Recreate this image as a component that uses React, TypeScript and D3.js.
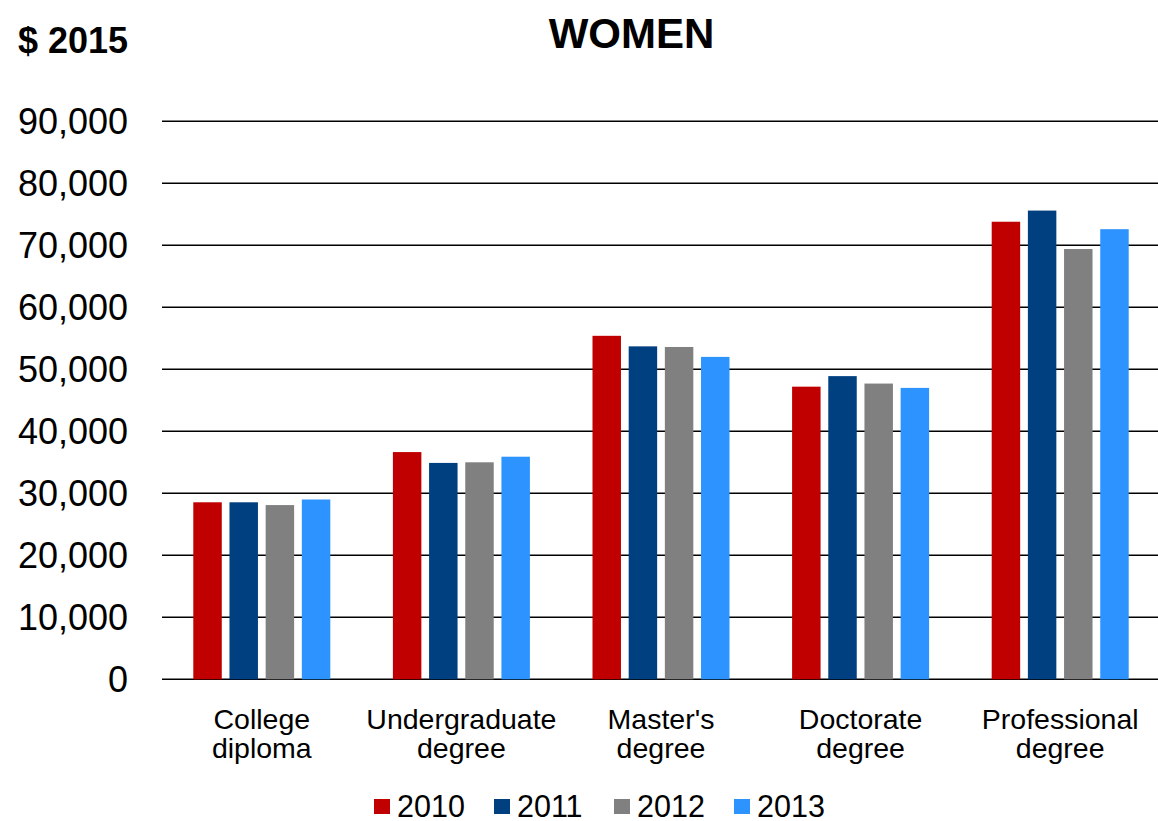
import React from "react";
import * as d3 from "d3";

const categories: string[][] = [
  ["College", "diploma"],
  ["Undergraduate", "degree"],
  ["Master's", "degree"],
  ["Doctorate", "degree"],
  ["Professional", "degree"],
];
const seriesNames = ["2010", "2011", "2012", "2013"];
const seriesColors = ["#C00000", "#003F80", "#808080", "#2D94FF"];
const values2010 = [28550, 36650, 55400, 47200, 73800];
const values2011 = [28550, 34900, 53700, 48900, 75600];
const values2012 = [28100, 35000, 53600, 47700, 69400];
const values2013 = [29000, 35900, 52000, 47000, 72600];
const seriesValues = [values2010, values2011, values2012, values2013];
const yTicks = [0, 10000, 20000, 30000, 40000, 50000, 60000, 70000, 80000, 90000];

const W = 1158;
const H = 821;
const FONT = "'Liberation Sans', Arial, sans-serif";

export default function App() {
  const catKeys = categories.map((c) => c.join(" "));
  const x0 = d3.scaleBand<string>().domain(catKeys).range([162, 1160]).padding(0);
  const x1 = d3
    .scaleBand<string>()
    .domain(seriesNames)
    .range([0, x0.bandwidth()])
    .paddingInner(0.213)
    .paddingOuter(0.865);
  const y = d3.scaleLinear().domain([0, 90000]).range([679.3, 121.3]);
  const fmt = d3.format(",");

  return (
    <svg
      width={W}
      height={H}
      style={{ position: "absolute", left: 0, top: 0, background: "#fff" }}
      fontFamily={FONT}
    >
      <rect width={W} height={H} fill="#fff" />
      <text x={18} y={53} fontSize={36} fontWeight="bold" fill="#000">
        $ 2015
      </text>
      <text x={631.5} y={48} fontSize={42} fontWeight="bold" textAnchor="middle" fill="#000">
        WOMEN
      </text>
      {yTicks.map((t) => (
        <g key={t}>
          <line x1={162} x2={W} y1={y(t)} y2={y(t)} stroke="#000" strokeWidth={1.6} />
          <text x={128} y={y(t) + 13} fontSize={36} textAnchor="end" fill="#000">
            {fmt(t)}
          </text>
        </g>
      ))}
      {catKeys.map((k, ci) => (
        <g key={k} transform={`translate(${x0(k)},0)`}>
          {seriesNames.map((s, si) => {
            const v = seriesValues[si][ci];
            return (
              <rect
                key={s}
                x={x1(s)}
                y={y(v)}
                width={x1.bandwidth()}
                height={y(0) - y(v)}
                fill={seriesColors[si]}
              />
            );
          })}
          {categories[ci].map((line, li) => (
            <text
              key={li}
              x={x0.bandwidth() / 2}
              y={729 + li * 29}
              fontSize={28.5}
              textAnchor="middle"
              fill="#000"
            >
              {line}
            </text>
          ))}
        </g>
      ))}
      {seriesNames.map((s, i) => (
        <g key={s} transform={`translate(${374 + i * 120},0)`}>
          <rect x={0} y={799} width={16} height={15} fill={seriesColors[i]} />
          <text x={23} y={816.5} fontSize={30.5} fill="#000">
            {s}
          </text>
        </g>
      ))}
    </svg>
  );
}
